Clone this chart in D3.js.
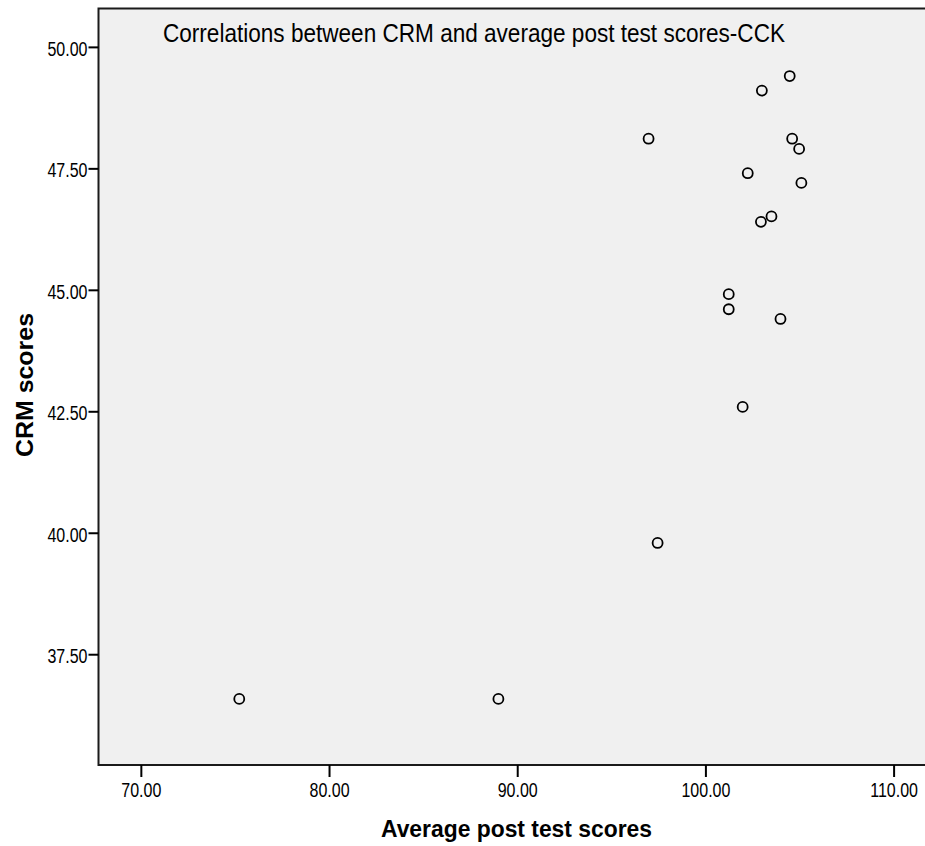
<!DOCTYPE html>
<html>
<head>
<meta charset="utf-8">
<script src="https://cdn.jsdelivr.net/npm/d3@7"></script>
<style>
  body { margin: 0; background: #fff; }
  text { font-family: "Liberation Sans", Arial, sans-serif; }
</style>
</head>
<body>
<div id="chart"></div>
<script>
'use strict';

// data
const postTestScores = [104.48, 103.0, 96.98, 104.61, 104.98, 102.25, 105.1, 103.51, 102.95, 101.24, 101.24, 103.99, 101.98, 97.46, 75.23, 89.0];
const crmScores      = [49.40, 49.10, 48.11, 48.11, 47.90, 47.40, 47.20, 46.51, 46.40, 44.91, 44.60, 44.40, 42.59, 39.79, 36.58, 36.58];
const xTicks = [70, 80, 90, 100, 110];
const yTicks = [37.5, 40, 42.5, 45, 47.5, 50];
const chartTitle = "Correlations between CRM and average post test scores-CCK";
const xTitle = "Average post test scores";
const yTitle = "CRM scores";

const width = 925, height = 846;
const plot = { left: 98.5, right: 935, top: 8.5, bottom: 765 };

let svg = d3.select("#chart").append("svg")
    .attr("width", width)
    .attr("height", height);

let xScale = d3.scaleLinear().domain([67.75, 112.2]).range([plot.left, plot.right]);
let yScale = d3.scaleLinear().domain([35.22, 50.79]).range([plot.bottom, plot.top]);

// plot background + frame
svg.append("rect")
    .attr("x", plot.left)
    .attr("y", plot.top)
    .attr("width", plot.right - plot.left)
    .attr("height", plot.bottom - plot.top)
    .attr("fill", "#f0f0f0")
    .attr("stroke", "#1a1a1a")
    .attr("stroke-width", 2);

// axes
let fmt = d3.format(".2f");
let xAxis = svg.append("g")
    .attr("transform", "translate(0," + plot.bottom + ")")
    .call(d3.axisBottom(xScale).tickValues(xTicks).tickFormat(fmt).tickSize(12).tickPadding(6));
let yAxis = svg.append("g")
    .attr("transform", "translate(" + plot.left + ",0)")
    .call(d3.axisLeft(yScale).tickValues(yTicks).tickFormat(fmt).tickSize(10).tickPadding(1));

[xAxis, yAxis].forEach(ax => {
    ax.select(".domain").remove();
    ax.selectAll(".tick line").attr("stroke", "#000").attr("stroke-width", 2);
    ax.selectAll(".tick text")
        .attr("fill", "#000")
        .style("font-family", "'Liberation Sans', Arial, sans-serif")
        .style("font-size", "20px");
});
// narrow the tick labels (the original uses a condensed face)
xAxis.selectAll(".tick text").attr("transform", "scale(0.8,1)").attr("dy", "0.72em");
yAxis.selectAll(".tick text")
    .attr("x", -11 / 0.8)
    .attr("dy", "0.42em")
    .attr("transform", "scale(0.8,1)");

// points
svg.append("g")
    .selectAll("circle")
    .data(postTestScores.map((v, i) => ({ x: v, y: crmScores[i] })))
    .enter()
    .append("circle")
    .attr("cx", d => xScale(d.x))
    .attr("cy", d => yScale(d.y))
    .attr("r", 5)
    .attr("fill", "none")
    .attr("stroke", "#000")
    .attr("stroke-width", 1.8);

// chart title inside the plot
svg.append("text")
    .attr("x", 163)
    .attr("y", 42)
    .style("font-size", "25px")
    .attr("fill", "#000")
    .attr("textLength", 622)
    .attr("lengthAdjust", "spacingAndGlyphs")
    .text(chartTitle);

// axis titles
svg.append("text")
    .attr("x", 381)
    .attr("y", 837)
    .style("font-size", "23px")
    .style("font-weight", "bold")
    .attr("fill", "#000")
    .attr("textLength", 271)
    .attr("lengthAdjust", "spacingAndGlyphs")
    .text(xTitle);

svg.append("text")
    .attr("transform", "translate(33,457) rotate(-90)")
    .style("font-size", "23px")
    .style("font-weight", "bold")
    .attr("fill", "#000")
    .attr("textLength", 144)
    .attr("lengthAdjust", "spacingAndGlyphs")
    .text(yTitle);
</script>
</body>
</html>
